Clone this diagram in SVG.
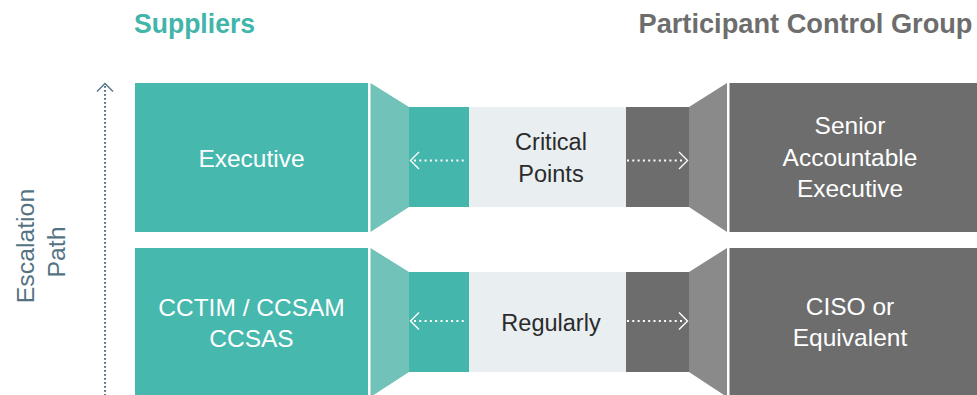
<svg xmlns="http://www.w3.org/2000/svg" width="977" height="395" viewBox="0 0 977 395">
  <style>
    text { font-family: "Liberation Sans", Arial, Helvetica, sans-serif; }
    .title { font-size: 27px; font-weight: bold; }
    .box-label { font-size: 24.5px; fill: #ffffff; text-anchor: middle; }
    .mid-label { font-size: 23.5px; fill: #2b2b2b; text-anchor: middle; }
    .side-label { font-size: 24.8px; fill: #537384; text-anchor: middle; }
    .teal { fill: #46b8ae; }
    .teal-inner { fill: #44b6ac; }
    .teal-funnel { fill: #71c3b9; }
    .pale { fill: #e9eef1; }
    .grey { fill: #6d6d6d; }
    .grey-funnel { fill: #8a8a8a; }
    .dots { fill: none; stroke: #ffffff; stroke-width: 2; stroke-dasharray: 2 3.3; }
    .chev { fill: none; stroke: #ffffff; stroke-width: 1.4; }
    .esc { fill: none; stroke: #537384; stroke-width: 2; stroke-dasharray: 1.8 2.2; }
    .esc-chev { fill: none; stroke: #537384; stroke-width: 1.4; }
  </style>

  <!-- column headings -->
  <text class="title" x="134" y="33" fill="#41b5a9" textLength="121" lengthAdjust="spacingAndGlyphs">Suppliers</text>
  <text class="title" x="638.5" y="33" fill="#6d6d6d" textLength="334" lengthAdjust="spacingAndGlyphs">Participant Control Group</text>

  <!-- side label -->
  <g id="escalation-label">
    <text class="side-label" transform="translate(33.5,246) rotate(-90)">Escalation</text>
    <text class="side-label" transform="translate(65,252) rotate(-90)">Path</text>
  </g>

  <!-- supplier roles -->
  <g id="supplier-executive">
    <rect class="teal" x="135" y="83" width="233" height="149"/>
    <text class="box-label" x="251.5" y="166.5">Executive</text>
  </g>
  <g id="supplier-cctim">
    <rect class="teal" x="135" y="248" width="233" height="149"/>
    <text class="box-label" x="251.5" y="316">CCTIM / CCSAM</text>
    <text class="box-label" x="251.5" y="347">CCSAS</text>
  </g>

  <!-- communication channels -->
  <g id="channel-critical-points">
    <polygon class="teal-funnel" points="370.5,83 409,107 409,207 370.5,232"/>
    <rect class="teal-inner" x="409" y="107" width="60" height="100"/>
    <rect class="pale" x="469" y="107" width="157" height="100"/>
    <rect class="grey" x="626" y="107" width="63" height="100"/>
    <polygon class="grey-funnel" points="689,107 727,83 727,232 689,207"/>
    <text class="mid-label" x="551" y="150">Critical</text>
    <text class="mid-label" x="551" y="181.5">Points</text>
  </g>
  <g id="channel-regularly">
    <polygon class="teal-funnel" points="370.5,248 409,272 409,372 370.5,397"/>
    <rect class="teal-inner" x="409" y="272" width="60" height="100"/>
    <rect class="pale" x="469" y="272" width="157" height="100"/>
    <rect class="grey" x="626" y="272" width="63" height="100"/>
    <polygon class="grey-funnel" points="689,272 727,248 727,397 689,372"/>
    <text class="mid-label" x="551" y="331">Regularly</text>
  </g>

  <!-- participant roles -->
  <g id="senior-accountable-executive">
    <rect class="grey" x="729.5" y="83" width="248" height="149"/>
    <text class="box-label" x="850" y="134.3">Senior</text>
    <text class="box-label" x="850" y="166">Accountable</text>
    <text class="box-label" x="850" y="197">Executive</text>
  </g>
  <g id="ciso">
    <rect class="grey" x="729.5" y="248" width="248" height="149"/>
    <text class="box-label" x="850" y="315">CISO or</text>
    <text class="box-label" x="850" y="346">Equivalent</text>
  </g>

  <!-- connectors -->
  <g id="connectors">
    <!-- escalation path -->
    <line class="esc" x1="105" y1="86" x2="105" y2="395"/>
    <polyline class="esc-chev" points="97,91.5 105,83.5 113,91.5"/>

    <!-- critical points: both directions -->
    <line class="dots" x1="414" y1="160.5" x2="467" y2="160.5"/>
    <polyline class="chev" points="419,152 410.5,160.5 419,169"/>
    <line class="dots" x1="627" y1="160.5" x2="684" y2="160.5"/>
    <polyline class="chev" points="679,152 687.5,160.5 679,169"/>

    <!-- regularly: both directions -->
    <line class="dots" x1="414" y1="321" x2="467" y2="321"/>
    <polyline class="chev" points="419,312.5 410.5,321 419,329.5"/>
    <line class="dots" x1="627" y1="321" x2="684" y2="321"/>
    <polyline class="chev" points="679,312.5 687.5,321 679,329.5"/>
  </g>
</svg>
